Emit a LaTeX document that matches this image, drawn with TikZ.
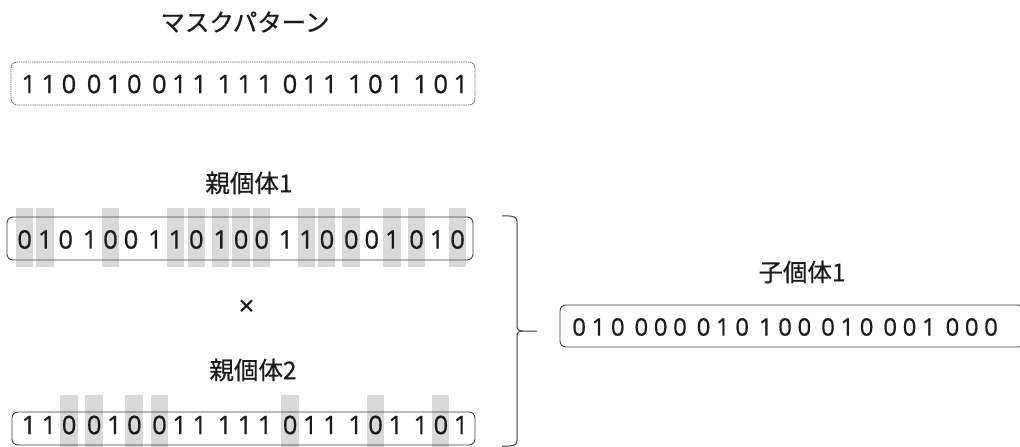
\documentclass[tikz,border=0pt]{standalone}
\usepackage{fontspec}
\setmainfont{Noto Sans CJK JP}
\newfontfamily\lblfont[FakeBold=0.6]{Noto Sans CJK JP}
\newfontfamily\bitfont[FakeBold=0.7]{Open Sans}
\newlength\dgw
\newlength\gpw
\newcommand\grp[3]{\makebox[\dgw]{#1}\makebox[\dgw]{#2}\makebox[\dgw]{#3}}
\newcommand\gp{\hspace*{\gpw}}
\definecolor{barc}{HTML}{D9D9D9}
\definecolor{ink}{HTML}{1A1A1A}
\definecolor{edge}{HTML}{3C3C3C}
\begin{document}
\begin{tikzpicture}[x=1pt,y=-1pt,
  box/.style={draw=edge, line width=0.9pt, rounded corners=6pt, inner sep=0pt, fill=none},
  maskbox/.style={box, draw=edge!85, dash pattern=on 1.4pt off 0.8pt},
  lbl/.style={text=ink, font=\lblfont\fontsize{24.5}{29}\selectfont, inner sep=0pt},
  bitrow/.style={text=ink, font=\bitfont\fontsize{25.5}{30}\selectfont, inner sep=0pt, anchor=west},
  shade/.style={fill=barc, draw=none}]
\useasboundingbox (0,0) rectangle (1020,447);

% shaded columns, parent 1 (mask = 1)
\foreach \i in {1,2,5,8,9,10,11,12,14,15,16,18,19,21}{
  \pgfmathsetmacro\cx{24.5 + int((\i-1)/3)*65.3 + mod(\i-1,3)*20.5}
  \path[shade] (\cx-8.6,208) rectangle (\cx+8.6,267);
}
% shaded columns, parent 2 (mask = 0)
\foreach \i in {3,4,6,7,13,17,20}{
  \pgfmathsetmacro\cx{28.7 + int((\i-1)/3)*65.3 + mod(\i-1,3)*20.1}
  \path[shade] (\cx-8.8,395) rectangle (\cx+8.8,447);
}

% titles
\node[lbl] (tmask) at (245,22) {マスクパターン};
\node[lbl] (tp1) at (249,183) {親個体1};
\node[lbl, font=\bitfont\fontsize{27}{30}\selectfont] (times) at (246.5,307.5) {×};
\node[lbl] (tp2) at (253,370) {親個体2};
\node[lbl] (tc1) at (802,272) {子個体1};

% boxes
\node[maskbox, minimum width=464pt, minimum height=43pt] (mbox) at (243,83.5) {};
\node[box, minimum width=466pt, minimum height=43pt] (p1box) at (240,238.5) {};
\node[box, minimum width=463pt, minimum height=33pt] (p2box) at (243.5,428.5) {};
\node[box, minimum width=464pt, minimum height=42pt] (cbox) at (792,326) {};

% bit strings
\node[bitrow] (mbits) at (18.5,84) {\setlength\dgw{20.1pt}\setlength\gpw{5pt}%
  \grp{1}{1}{0}\gp\grp{0}{1}{0}\gp\grp{0}{1}{1}\gp\grp{1}{1}{1}\gp\grp{0}{1}{1}\gp\grp{1}{0}{1}\gp\grp{1}{0}{1}};
\node[bitrow] (p1bits) at (14.25,239.5) {\setlength\dgw{20.5pt}\setlength\gpw{3.8pt}%
  \grp{0}{1}{0}\gp\grp{1}{0}{0}\gp\grp{1}{1}{0}\gp\grp{1}{0}{0}\gp\grp{1}{1}{0}\gp\grp{0}{0}{1}\gp\grp{0}{1}{0}};
\node[bitrow] (p2bits) at (18.65,425) {\setlength\dgw{20.1pt}\setlength\gpw{5pt}%
  \grp{1}{1}{0}\gp\grp{0}{1}{0}\gp\grp{0}{1}{1}\gp\grp{1}{1}{1}\gp\grp{0}{1}{1}\gp\grp{1}{0}{1}\gp\grp{1}{0}{1}};
\node[bitrow, font=\bitfont\fontsize{24}{29}\selectfont] (cbits) at (569.3,327) {\setlength\dgw{19.3pt}\setlength\gpw{4.3pt}%
  \grp{0}{1}{0}\gp\grp{0}{0}{0}\gp\grp{0}{1}{0}\gp\grp{1}{0}{0}\gp\grp{0}{1}{0}\gp\grp{0}{0}{1}\gp\grp{0}{0}{0}};

% brace
\coordinate (btop) at (502,216);
\coordinate (btip) at (537,331);
\coordinate (bbot) at (502,446);
\draw[edge, line width=1pt, line join=round]
  (btop) .. controls (512,215.5) and (517,216.5) .. (517,221)
  -- (517,326) .. controls (517,329.5) and (519,331) .. (523,331) -- (btip);
\draw[edge, line width=1pt, line join=round]
  (523,331) .. controls (519,331) and (517,332.5) .. (517,336)
  -- (517,441) .. controls (517,445.5) and (512,446.5) .. (bbot);
\end{tikzpicture}
\end{document}
